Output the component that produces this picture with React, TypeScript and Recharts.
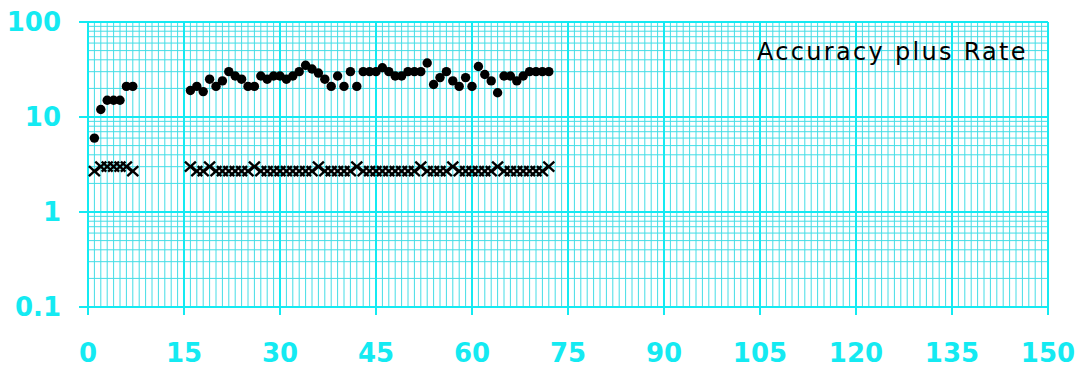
import { ScatterChart, Scatter, XAxis, YAxis, CartesianGrid } from "recharts";

// session number on the x axis
const sessions = [
  1, 2, 3, 4, 5, 6, 7,
  16, 17, 18, 19, 20, 21, 22, 23, 24, 25, 26, 27, 28, 29, 30, 31, 32, 33,
  34, 35, 36, 37, 38, 39, 40, 41, 42, 43, 44, 45, 46, 47, 48, 49, 50, 51,
  52, 53, 54, 55, 56, 57, 58, 59, 60, 61, 62, 63, 64, 65, 66, 67, 68, 69, 70, 71, 72,
];

// dots: correct per minute
const corrects = [
  6, 12, 15, 15, 15, 21, 21,
  19, 21, 18.5, 25, 21, 24, 30, 27, 25, 21, 21, 27, 25, 27, 27, 25, 27, 30,
  35, 32, 29, 25, 21, 27, 21, 30, 21, 30, 30, 30, 33, 30, 27, 27, 30, 30,
  30, 37, 22, 26, 30, 24, 21, 26, 21, 34, 28, 24, 18, 27, 27, 24, 27, 30, 30, 30, 30,
];

// crosses: errors per minute
const errors = [
  2.7, 3, 3, 3, 3, 3, 2.7,
  3, 2.7, 2.7, 3, 2.7, 2.7, 2.7, 2.7, 2.7, 2.7, 3, 2.7, 2.7, 2.7, 2.7, 2.7, 2.7, 2.7,
  2.7, 2.7, 3, 2.7, 2.7, 2.7, 2.7, 2.7, 3, 2.7, 2.7, 2.7, 2.7, 2.7, 2.7, 2.7, 2.7, 2.7,
  3, 2.7, 2.7, 2.7, 2.7, 3, 2.7, 2.7, 2.7, 2.7, 2.7, 2.7, 3, 2.7, 2.7, 2.7, 2.7, 2.7, 2.7, 2.7, 3,
];

const xTicks = [0, 15, 30, 45, 60, 75, 90, 105, 120, 135, 150];
const yTicks = [0.1, 1, 10, 100];

// minor grid: one line per session, and the 1..9 lines of each log decade
const xMinor = Array.from({ length: 151 }, (_, i) => i);
const yMinor = [
  0.1, 0.2, 0.3, 0.4, 0.5, 0.6, 0.7, 0.8, 0.9,
  1, 2, 3, 4, 5, 6, 7, 8, 9,
  10, 20, 30, 40, 50, 60, 70, 80, 90, 100,
];

const dotData = sessions.map((x, i) => ({ x, y: corrects[i] }));
const crossData = sessions.map((x, i) => ({ x, y: errors[i] }));

const CYAN = "#14eaf2";
const GRID = "#44dde6";
const FONT = "'DejaVu Sans', Verdana, sans-serif";

const tickStyle = { fill: CYAN, fontSize: 26, fontWeight: "bold" as const, fontFamily: FONT };

const DotShape = (p: any) => <circle cx={p.cx} cy={p.cy} r={4.7} fill="#000" />;

const CrossShape = (p: any) => (
  <g stroke="#000" strokeWidth={2.4}>
    <line x1={p.cx - 5.5} y1={p.cy - 5} x2={p.cx + 5.5} y2={p.cy + 5} />
    <line x1={p.cx - 5.5} y1={p.cy + 5} x2={p.cx + 5.5} y2={p.cy - 5} />
  </g>
);

export default function App() {
  return (
    <div style={{ position: "relative", width: 1075, height: 363 }}>
      <ScatterChart width={1075} height={363} margin={{ top: 14, right: 35, left: 0, bottom: 8 }}>
        <XAxis xAxisId="minor" type="number" dataKey="x" domain={[0, 150]} ticks={xMinor} interval={0} allowDataOverflow hide />
        <YAxis yAxisId="minor" type="number" dataKey="y" scale="log" domain={[0.1, 100]} ticks={yMinor} interval={0} allowDataOverflow hide />
        <CartesianGrid xAxisId="minor" yAxisId="minor" stroke={GRID} strokeWidth={1} />
        <CartesianGrid xAxisId="main" yAxisId="main" stroke={CYAN} strokeWidth={2} />
        <XAxis
          xAxisId="main"
          type="number"
          dataKey="x"
          domain={[0, 150]}
          ticks={xTicks}
          interval={0}
          allowDataOverflow
          height={56}
          tickSize={8}
          tickMargin={29}
          tick={tickStyle}
          axisLine={{ stroke: CYAN, strokeWidth: 2 }}
          tickLine={{ stroke: CYAN, strokeWidth: 2 }}
        />
        <YAxis
          yAxisId="main"
          type="number"
          dataKey="y"
          scale="log"
          domain={[0.1, 100]}
          ticks={yTicks}
          interval={0}
          allowDataOverflow
          width={80}
          tickSize={9}
          tickMargin={18}
          tick={tickStyle}
          tickFormatter={(v: number) => String(v)}
          axisLine={{ stroke: CYAN, strokeWidth: 2 }}
          tickLine={{ stroke: CYAN, strokeWidth: 2 }}
        />
        <Scatter xAxisId="main" yAxisId="main" data={crossData} shape={CrossShape} isAnimationActive={false} />
        <Scatter xAxisId="main" yAxisId="main" data={dotData} shape={DotShape} isAnimationActive={false} />
      </ScatterChart>
      <div
        style={{
          position: "absolute",
          left: 749,
          top: 30,
          fontFamily: FONT,
          fontSize: 24,
          letterSpacing: 2.3,
          color: "#000",
          lineHeight: "28px",
        }}
      >
        Accuracy plus Rate
      </div>
    </div>
  );
}
